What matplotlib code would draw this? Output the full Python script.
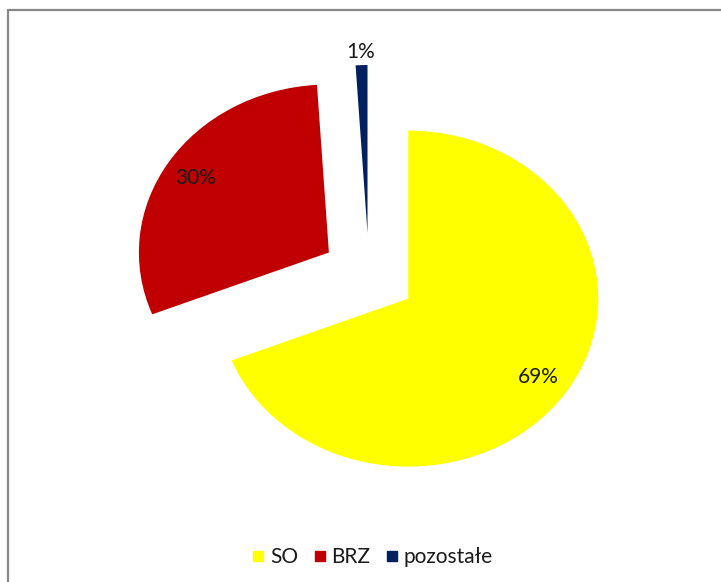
import matplotlib.pyplot as plt
from matplotlib.patches import Rectangle
from matplotlib.lines import Line2D

plt.rcParams['font.family'] = ['Lato', 'DejaVu Sans']

# data
categories = ["SO", "BRZ", "pozostałe"]
shares = [69, 30, 1]
colors = ["#FFFF00", "#C00000", "#002060"]
explode = [0.25, 0.25, 0.25]

fig = plt.figure(figsize=(7.21, 5.82), dpi=100)
ax = fig.add_axes([0, 0, 1, 1])

wedges, texts, autotexts = ax.pie(
    shares, colors=colors, explode=explode, startangle=90, counterclock=False,
    autopct="%1.0f%%", pctdistance=0.83,
    wedgeprops=dict(linewidth=0),
    textprops=dict(fontsize=15, color="#1a1a1a"),
)

# small slice label sits outside its wedge
w = wedges[2]
cx, cy = w.center
tx, ty = autotexts[2].get_position()
k = 1.08 / 0.83
autotexts[2].set_position((cx + (tx - cx) * k, cy + (ty - cy) * k))

# slightly squashed pie, as in the original picture
ax.set_aspect("auto")
ax.set_xlim(-369 / 190, (721 - 369) / 190)
ax.set_ylim((275 - 582) / 168, 275 / 168)
ax.axis("off")

# chart frame (only top and left edges visible)
fig.add_artist(Rectangle((7.5 / 721, -0.05), 1.1, 1 - 9.5 / 582 + 0.05,
                         transform=fig.transFigure, fill=False,
                         edgecolor="#878787", linewidth=1.6))

handles = [Line2D([], [], marker="s", linestyle="", markersize=7.5,
                  markerfacecolor=c, markeredgecolor=c) for c in colors]
fig.legend(handles, categories, loc="center", bbox_to_anchor=(373 / 721, 1 - 557 / 582),
           ncol=3, frameon=False, fontsize=15, handlelength=0.5, handletextpad=0.3,
           columnspacing=0.8, labelcolor="#1a1a1a")

fig.savefig("out.png", dpi=100)
